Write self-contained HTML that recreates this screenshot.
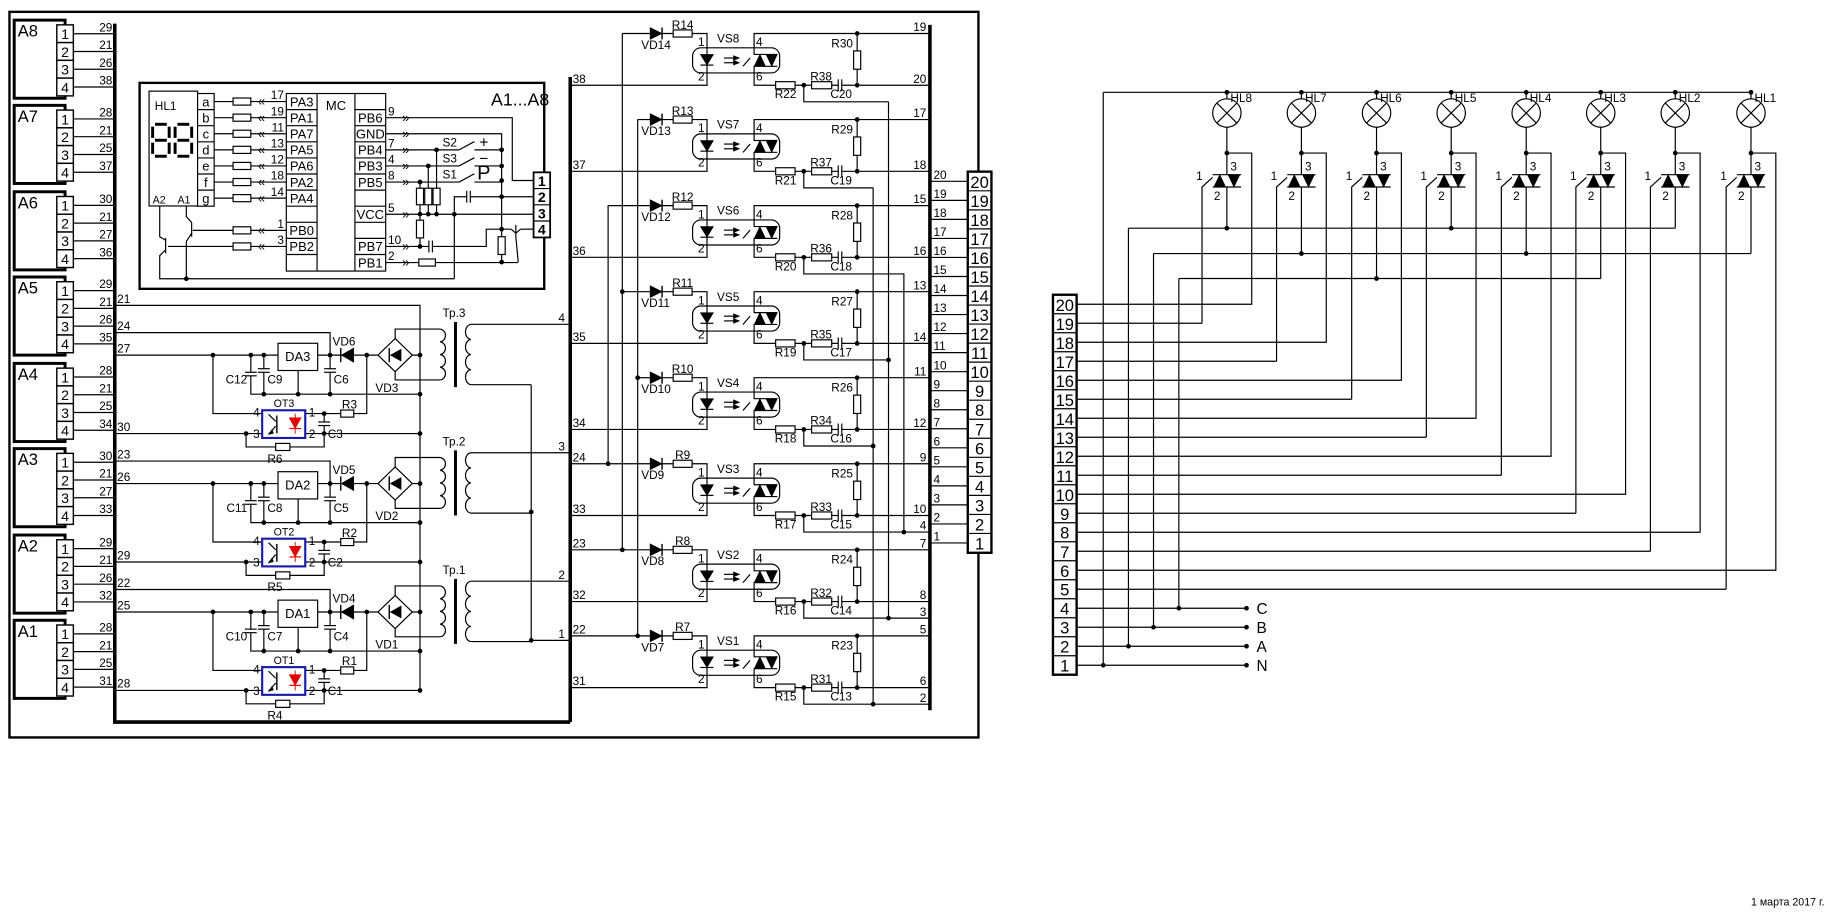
<!DOCTYPE html>
<html><head><meta charset="utf-8"><style>
html,body{margin:0;padding:0;background:#fff;width:1848px;height:915px;overflow:hidden}
svg{display:block}
text{font-family:"Liberation Sans",sans-serif;fill:#000}
</style></head><body>
<svg id="s" width="1848" height="915" viewBox="0 0 1562 773" preserveAspectRatio="none" xmlns="http://www.w3.org/2000/svg"></svg>
<script>
let h='';
function ln(p,w,c){h+=`<polyline points="${p.join(' ')}" fill="none" stroke="${c||'#000'}" stroke-width="${w||1}"/>`;}
function dot(x,y){h+=`<circle cx="${x}" cy="${y}" r="2" fill="#000"/>`;}
function tx(x,y,t,s,a,f){h+=`<text x="${x}" y="${y}" font-size="${s||10}" text-anchor="${a||'start'}"${f?' '+f:''}>${t}</text>`;}
function rc(x,y,w,hh,sw,st,rx,fill){h+=`<rect x="${x}" y="${y}" width="${w}" height="${hh}" rx="${rx||0}" fill="${fill||'#fff'}" stroke="${st||'#000'}" stroke-width="${sw||1}"/>`;}
function resH(x1,x2,y){rc(x1,y-3,x2-x1,6);}
function resV(x,y1,y2){rc(x-3,y1,6,y2-y1);}
function capH(x,y){h+=`<rect x="${x-1.5}" y="${y-1}" width="3" height="2" fill="#fff"/>`;ln([x-1.5,y-5,x-1.5,y+5]);ln([x+1.5,y-5,x+1.5,y+5]);}
function capV(x,y){h+=`<rect x="${x-1}" y="${y-1.5}" width="2" height="3" fill="#fff"/>`;ln([x-5,y-1.5,x+5,y-1.5]);ln([x-5,y+1.5,x+5,y+1.5]);}
function poly(p,f,s){h+=`<polygon points="${p.join(' ')}" fill="${f||'#000'}" stroke="${s||f||'#000'}" stroke-width="${s?1:0.5}"/>`;}

rc(8,10,819,613,2,'#000',0,'none');
ln([97,20,97,610,482,610],3);
ln([482,65,482,610],3);
ln([786,21,786,600],3);

const tops=[17,89,162,234,307,379,452,524];
const nm=['A8','A7','A6','A5','A4','A3','A2','A1'];
const nums=[[29,21,26,38],[28,21,25,37],[30,21,27,36],[29,21,26,35],[28,21,25,34],[30,21,27,33],[29,21,26,32],[28,21,25,31]];
tops.forEach((t,i)=>{
 rc(12,t,43,66,2.5,'#000',0,'none');
 tx(15,t+14,nm[i],14);
 for(let j=0;j<4;j++){
  const y=t+11.5+j*15;
  ln([62,y,97,y]);
  rc(48,t+4+j*15,14,15,1.2);
  tx(55,y+4.5,j+1,12,'middle');
  tx(95,y-2,nums[i][j],10,'end');
 }
});

rc(118,70,342,174,2,'#000',0,'none');
tx(415,89,'A1...A8',15);
const rowc=n=>85.8+n*13.6;
const lp=[17,19,11,13,12,18,14];
for(let n=0;n<7;n++){const y=rowc(n);ln([167,y,242,y]);resH(197,212,y);tx(221,y+3.5,'«',11,'middle');tx(240,y-2,lp[n],10,'end');}
[[8,1],[9,3]].forEach(([n,v])=>{const y=rowc(n);ln([(n==8?163:142),y,242,y]);resH(197,212,y);tx(221,y+3.5,'«',11,'middle');tx(240,y-2,v,10,'end');});
rc(126,77,41,97,1);
rc(167,79,14,95.2,1);
const seg='abcdefg';
for(let n=0;n<7;n++){if(n>0)ln([167,79+n*13.6,181,79+n*13.6]);tx(174,rowc(n)+4,seg[n],11,'middle');}
tx(140,93,'HL1',10,'middle');
[129,148].forEach(x=>{
 const w=14,y0=105,y1=118.5,y2=132;
 [[x+2,y0,x+w-2,y0],[x+2,y1,x+w-2,y1],[x+2,y2,x+w-2,y2],[x,y0+2,x,y1-2],[x+w,y0+2,x+w,y1-2],[x,y1+2,x,y2-2],[x+w,y1+2,x+w,y2-2]].forEach(s=>ln(s,2.5));
});
tx(129,172,'A2',9);tx(150,172,'A1',9);
ln([157.5,174,157.5,183,162,188]);ln([162,188,162,200]);ln([162,197,157.5,204,157.5,235.5]);
ln([135,174,135,200,140,203]);ln([140,201,140,214]);ln([140,211,135,216,135,235.5,384,235.5]);
dot(157.5,235.5);
rc(242,79,84,150,1);ln([268,79,268,229]);ln([300,79,300,229]);
const L=['PA3','PA1','PA7','PA5','PA6','PA2','PA4','','PB0','PB2',''];
const R=['','PB6','GND','PB4','PB3','PB5','','VCC','','PB7','PB1'];
for(let n=1;n<11;n++){ln([242,79+n*13.6,268,79+n*13.6]);ln([300,79+n*13.6,326,79+n*13.6]);}
for(let n=0;n<11;n++){if(L[n])tx(255,rowc(n)+4,L[n],11,'middle');if(R[n])tx(313,rowc(n)+4,R[n],11,'middle');}
tx(284,93,'MC',11,'middle');
const rp={1:'9',3:'7',4:'4',5:'8',7:'5',9:'10',10:'2'};
rc(451,145.6,14,55,1.5);
for(let k=1;k<4;k++)ln([451,145.6+k*13.7,465,145.6+k*13.7]);
[152.5,166.2,179.9,193.6].forEach((y,k)=>tx(458,y+4.5,k+1,12,'middle','font-weight="bold"'));
let y;
y=rowc(1);ln([326,y,433,y,433,152.5,451,152.5]);
y=rowc(2);ln([326,y,424,y,424,221.4]);
[126.6,140.2,152.5,166.2,193.6,221.4].forEach(v=>dot(424,v));
[[3,369,'S2','+'],[4,362,'S3','−'],[5,355,'S1','P']].forEach(([n,x,s,c])=>{
 const y=rowc(n);ln([326,y,388,y]);ln([388,y,401,y-7]);ln([401,y,424,y]);dot(x,y);
 tx(374,y-3,s,10);tx(409,y-2,c,c=='P'?17:13,'middle');
 ln([x,y,x,180.9]);resV(x,159,173);dot(x,180.9);
});
y=rowc(7);ln([326,y,451,y]);dot(384,y);
ln([384,235.5,384,166.2,451,166.2]);capH(396,166.2);
ln([355,180.9,355,208.2]);resV(355,186,201);
y=rowc(9);ln([326,y,411,y,411,193.6,432,193.6]);dot(355,y);capH(364,y);
ln([440,193.6,451,193.6]);ln([432,193.6,436,197]);ln([436,190,436,200]);ln([436,197,440,193.6]);
ln([436,200,438,221.4]);
y=rowc(10);ln([326,y,438,y]);resH(354,368,y);resV(424,200,215);
for(const n in rp){const y=rowc(+n);tx(328,y-2,rp[n],10);tx(343,y+3.5,'»',11,'middle');}
tx(343,rowc(2)+3.5,'»',11,'middle');

ln([97,258,355,258,355,582.7]);tx(99,256,'21',10);
const st=[[0,'3','24','27','30','DA3','VD6','VD3','C12','C9','C6','OT3','R3','C3','R6','4'],
          [108.5,'2','23','26','29','DA2','VD5','VD2','C11','C8','C5','OT2','R2','C2','R5','3'],
          [217,'1','22','25','28','DA1','VD4','VD1','C10','C7','C4','OT1','R1','C1','R4','2']];
st.forEach(s=>{
 const o=s[0];
 ln([97,281+o,279,281+o,279,300+o]);tx(99,279+o,s[2],10);
 ln([97,300+o,355,300+o]);tx(99,298+o,s[3],10);
 [180,212,223,279,310,355].forEach(x=>dot(x,300+o));
 ln([212,300+o,212,333+o,355,333+o]);ln([223,300+o,223,333+o]);ln([279,300+o,279,333+o]);ln([252,313+o,252,333+o]);
 capV(212,316+o);capV(223,313+o);capV(279,313+o);
 [223,252,279,355].forEach(x=>dot(x,333+o));
 tx(209,324+o,s[8],10,'end');tx(226,324+o,s[9],10);tx(282,324+o,s[10],10);
 rc(235,290+o,33.5,23,1);tx(251.7,305+o,s[5],11,'middle');
 ln([288,294+o,288,306+o],1.2);poly([299,294+o,299,306+o,288.5,300+o]);tx(281,292+o,s[6],10);
 const cx=334,cy=300+o;
 ln([cx,cy-14,cx,278+o,372,278+o]);ln([cx,cy+14,cx,321+o,372,321+o]);
 poly([cx,cy-14,cx+14.5,cy,cx,cy+14,cx-14.5,cy],'#fff','#000');
 poly([cx+5,cy-5,cx+5,cy+5,cx-4,cy]);ln([cx-5,cy-6,cx-5,cy+6],1.2);
 tx(327,331+o,s[7],10,'middle');
 let d=`M372 ${278+o}`;for(let k=0;k<4;k++){d+=` a5 5.4 0 0 1 0 10.75`;}
 h+=`<path d="${d}" fill="none" stroke="#000"/>`;
 d=`M398 ${274+o}`;for(let k=0;k<4;k++){d+=` a5 6.4 0 0 0 0 12.75`;}
 h+=`<path d="${d}" fill="none" stroke="#000"/>`;
 ln([385,272+o,385,327+o],2.5);
 tx(374,268+o,'Тр.'+s[1],10);
 ln([398,274+o,482,274+o]);tx(472,272+o,s[15],10);
 ln([398,325+o,449,325+o]);
 ln([180,300+o,180,349.4+o,221.6,349.4+o]);
 ln([258,349.4+o,310,349.4+o,310,300+o]);resH(288,299,349.4+o);dot(274,349.4+o);
 ln([274,349.4+o,274,366.3+o]);capV(274,358+o);
 ln([97,366.3+o,221.6,366.3+o]);tx(99,364+o,s[4],10);dot(208,366.3+o);
 ln([258,366.3+o,355,366.3+o]);dot(274,366.3+o);
 ln([208,366.3+o,208,377.6+o,274,377.6+o,274,366.3+o]);resH(233,245,377.6+o);
 rc(221.6,346.6+o,36.4,23.4,1.8,'#1a1aa8',0);
 ln([234,351+o,234,366+o],1.2);ln([233,356+o,227,350+o]);ln([233,360+o,227,367+o]);poly([227,367+o,230,363+o,231,366+o]);
 poly([244.5,353+o,254.5,353+o,249.5,362+o],'#e00000');ln([244.5,362+o,254.5,362+o],1,'#e00000');ln([249.5,349.4+o,249.5,366.3+o],0.8,'#e00000');
 tx(240,344+o,s[11],9,'middle');tx(214,352+o,'4',10);tx(261,352+o,'1',10);tx(214,370+o,'3',10);tx(261,370+o,'2',10);
 tx(289,345+o,s[12],10);tx(277,370+o,s[13],10);tx(226,391+o,s[14],10);
 dot(355,366.3+o);
});
ln([449,325,449,541,482,541]);dot(449,432.5);dot(449,541);tx(472,539,'1',10);

const vx=[751,738,764,751,738,764,751,738];
const dx=[526,539,514,526,539,514,526,539];
const lab=[38,37,36,35,34,33,32,31];
ln([751,86,751,522]);ln([738,158.5,738,595]);ln([764,231,764,449.5]);
ln([514,173.3,514,391.8]);ln([526,28.3,526,464.5]);ln([539,100.8,539,537]);
for(let i=0;i<8;i++){
 const Y=72+i*72.7,n=8-i,t=Y-43.7;
 ln([482,Y,597.6,Y,597.6,Y-10.4]);tx(484,Y-2,lab[i],10);
 if(i<3){ln([dx[i],t,549.5,t]);}
 else if(i<5){ln([dx[i],t,549.5,t]);dot(dx[i],t);}
 else {ln([482,t,549.5,t]);dot(dx[i],t);tx(484,t-2,['24','23','22'][i-5],10);}
 poly([549.5,t-5,549.5,t+5,559.6,t]);ln([559.6,t-5,559.6,t+5],1.2);
 ln([559.6,t,597.6,t,597.6,Y-31.6]);resH(569,585,t);
 tx(542,t+13,'VD'+(n+6),10);tx(577,t-4,'R'+(n+6),10,'middle');
 rc(585.4,Y-31.6,73.6,21.2,1,'#000',7,'none');
 ln([597.6,Y-31.6,597.6,Y-10.4]);
 poly([592,Y-26,603,Y-26,597.6,Y-17]);ln([592,Y-17,603,Y-17]);
 ln([612,Y-23,622,Y-23]);poly([625,Y-23,620,Y-25,620,Y-21]);
 ln([612,Y-19,622,Y-19]);poly([625,Y-19,620,Y-21,620,Y-17]);
 ln([628,Y-16,634,Y-23]);
 ln([637,Y-26,657,Y-26]);ln([637,Y-16,657,Y-16]);
 poly([637.5,Y-16,647,Y-16,642.3,Y-26]);poly([647.5,Y-26,657,Y-26,652.3,Y-16]);
 ln([637.4,Y-31.6,637.4,Y-26]);ln([637.4,Y-16,637.4,Y-10.4]);
 ln([637.4,Y-31.6,637.4,t,786,t]);dot(724.5,t);
 ln([637.4,Y-10.4,637.4,Y,786,Y]);resH(655.6,672,Y);dot(679.4,Y);resH(686,703,Y);capH(710,Y);dot(724.5,Y);
 ln([724.5,t,724.5,Y]);resV(724.5,Y-29,Y-13.5);
 tx(606,Y-36,'VS'+n,10);tx(590,Y-33,'1',10);tx(590,Y-4,'2',10);tx(639,Y-33,'4',10);tx(639,Y-4,'6',10);
 tx(664,Y+11,'R'+(n+14),10,'middle');tx(694,Y-4,'R'+(n+30),10,'middle');tx(711,Y+11,'C'+(n+12),10,'middle');tx(721,Y-32,'R'+(n+22),10,'end');
 tx(783,t-2,2*n+3,10,'end');tx(783,Y-2,2*n+4,10,'end');
 const yy=Y+14;
 if(i>=5){ln([679.4,Y,679.4,yy,786,yy]);dot(vx[i],yy);tx(783,yy-2,['4','3','2'][i-5],10,'end');}
 else{ln([679.4,Y,679.4,yy,vx[i],yy]);if(i>=3)dot(vx[i],yy);}
}
for(let k=1;k<=20;k++){const y=458.7-(k-1)*16.08;ln([786,y,818,y]);tx(789,y-2,k,10);}
rc(818,145,20,322,2);
for(let k=1;k<20;k++){const y=458.7-(k-1)*16.08-8.04;ln([818,y,838,y]);}
for(let k=1;k<=20;k++){const y=458.7-(k-1)*16.08;tx(828,y+5.5,k,14,'middle');}

const rowY=k=>562-(k-1)*16.05;
const lx=[1037,1100,1163.5,1226.6,1290,1353,1416,1480];
const grp=[192.8,214.2,235.3,192.8,214.2,235.3,192.8,214.2];
ln([932.5,78,1480,78]);ln([932.5,78,932.5,562]);
ln([953.8,192.8,1416,192.8]);ln([975,214.2,1480,214.2]);ln([996.4,235.3,1353,235.3]);
ln([953.8,192.8,953.8,545.95]);ln([975,214.2,975,529.9]);ln([996.4,235.3,996.4,513.85]);
lx.forEach((x,i)=>{
 const n=8-i;
 dot(x,78);ln([x,78,x,83.5]);
 ln([x,107.5,x,grp[i]]);dot(x,129.3);
 const kr=20-2*i,kg=19-2*i;
 ln([x,129.3,x+21,129.3,x+21,rowY(kr),910,rowY(kr)]);
 ln([x-21,rowY(kg),x-21,158,x-10,148]);ln([910,rowY(kg),x-21,rowY(kg)]);
 h+=`<circle cx="${x}" cy="95.5" r="12" fill="#fff" stroke="#000"/>`;
 ln([x-8.5,87,x+8.5,104]);ln([x+8.5,87,x-8.5,104]);
 tx(x+3,86,'HL'+n,10);
 h+=`<rect x="${x-12}" y="147.6" width="24" height="10.4" fill="#fff"/>`;
 ln([x-12,147.6,x+12,147.6]);ln([x-12,158,x+12,158]);
 poly([x-11,158,x-1,158,x-6,147.6]);poly([x+1,147.6,x+11,147.6,x+6,158]);
 tx(x+3,144,'3',10);tx(x-26,152,'1',10);tx(x-11,169,'2',10);
 if(i<5)dot(x,grp[i]);
});
[['N',1,932.5],['A',2,953.8],['B',3,975],['C',4,996.4]].forEach(([l,k,x])=>{const y=rowY(k);ln([910,y,1053.6,y]);dot(x,y);dot(1053.6,y);tx(1062,y+5,l,13);});
rc(890,249,20,321,2);
for(let k=1;k<20;k++){const y=rowY(k)-8.02;ln([890,y,910,y]);}
for(let k=1;k<=20;k++){tx(900,rowY(k)+5.5,k,14,'middle');}

tx(1480,765,'1 марта 2017 г.',9);
document.getElementById('s').innerHTML=h;
</script>
</body></html>
